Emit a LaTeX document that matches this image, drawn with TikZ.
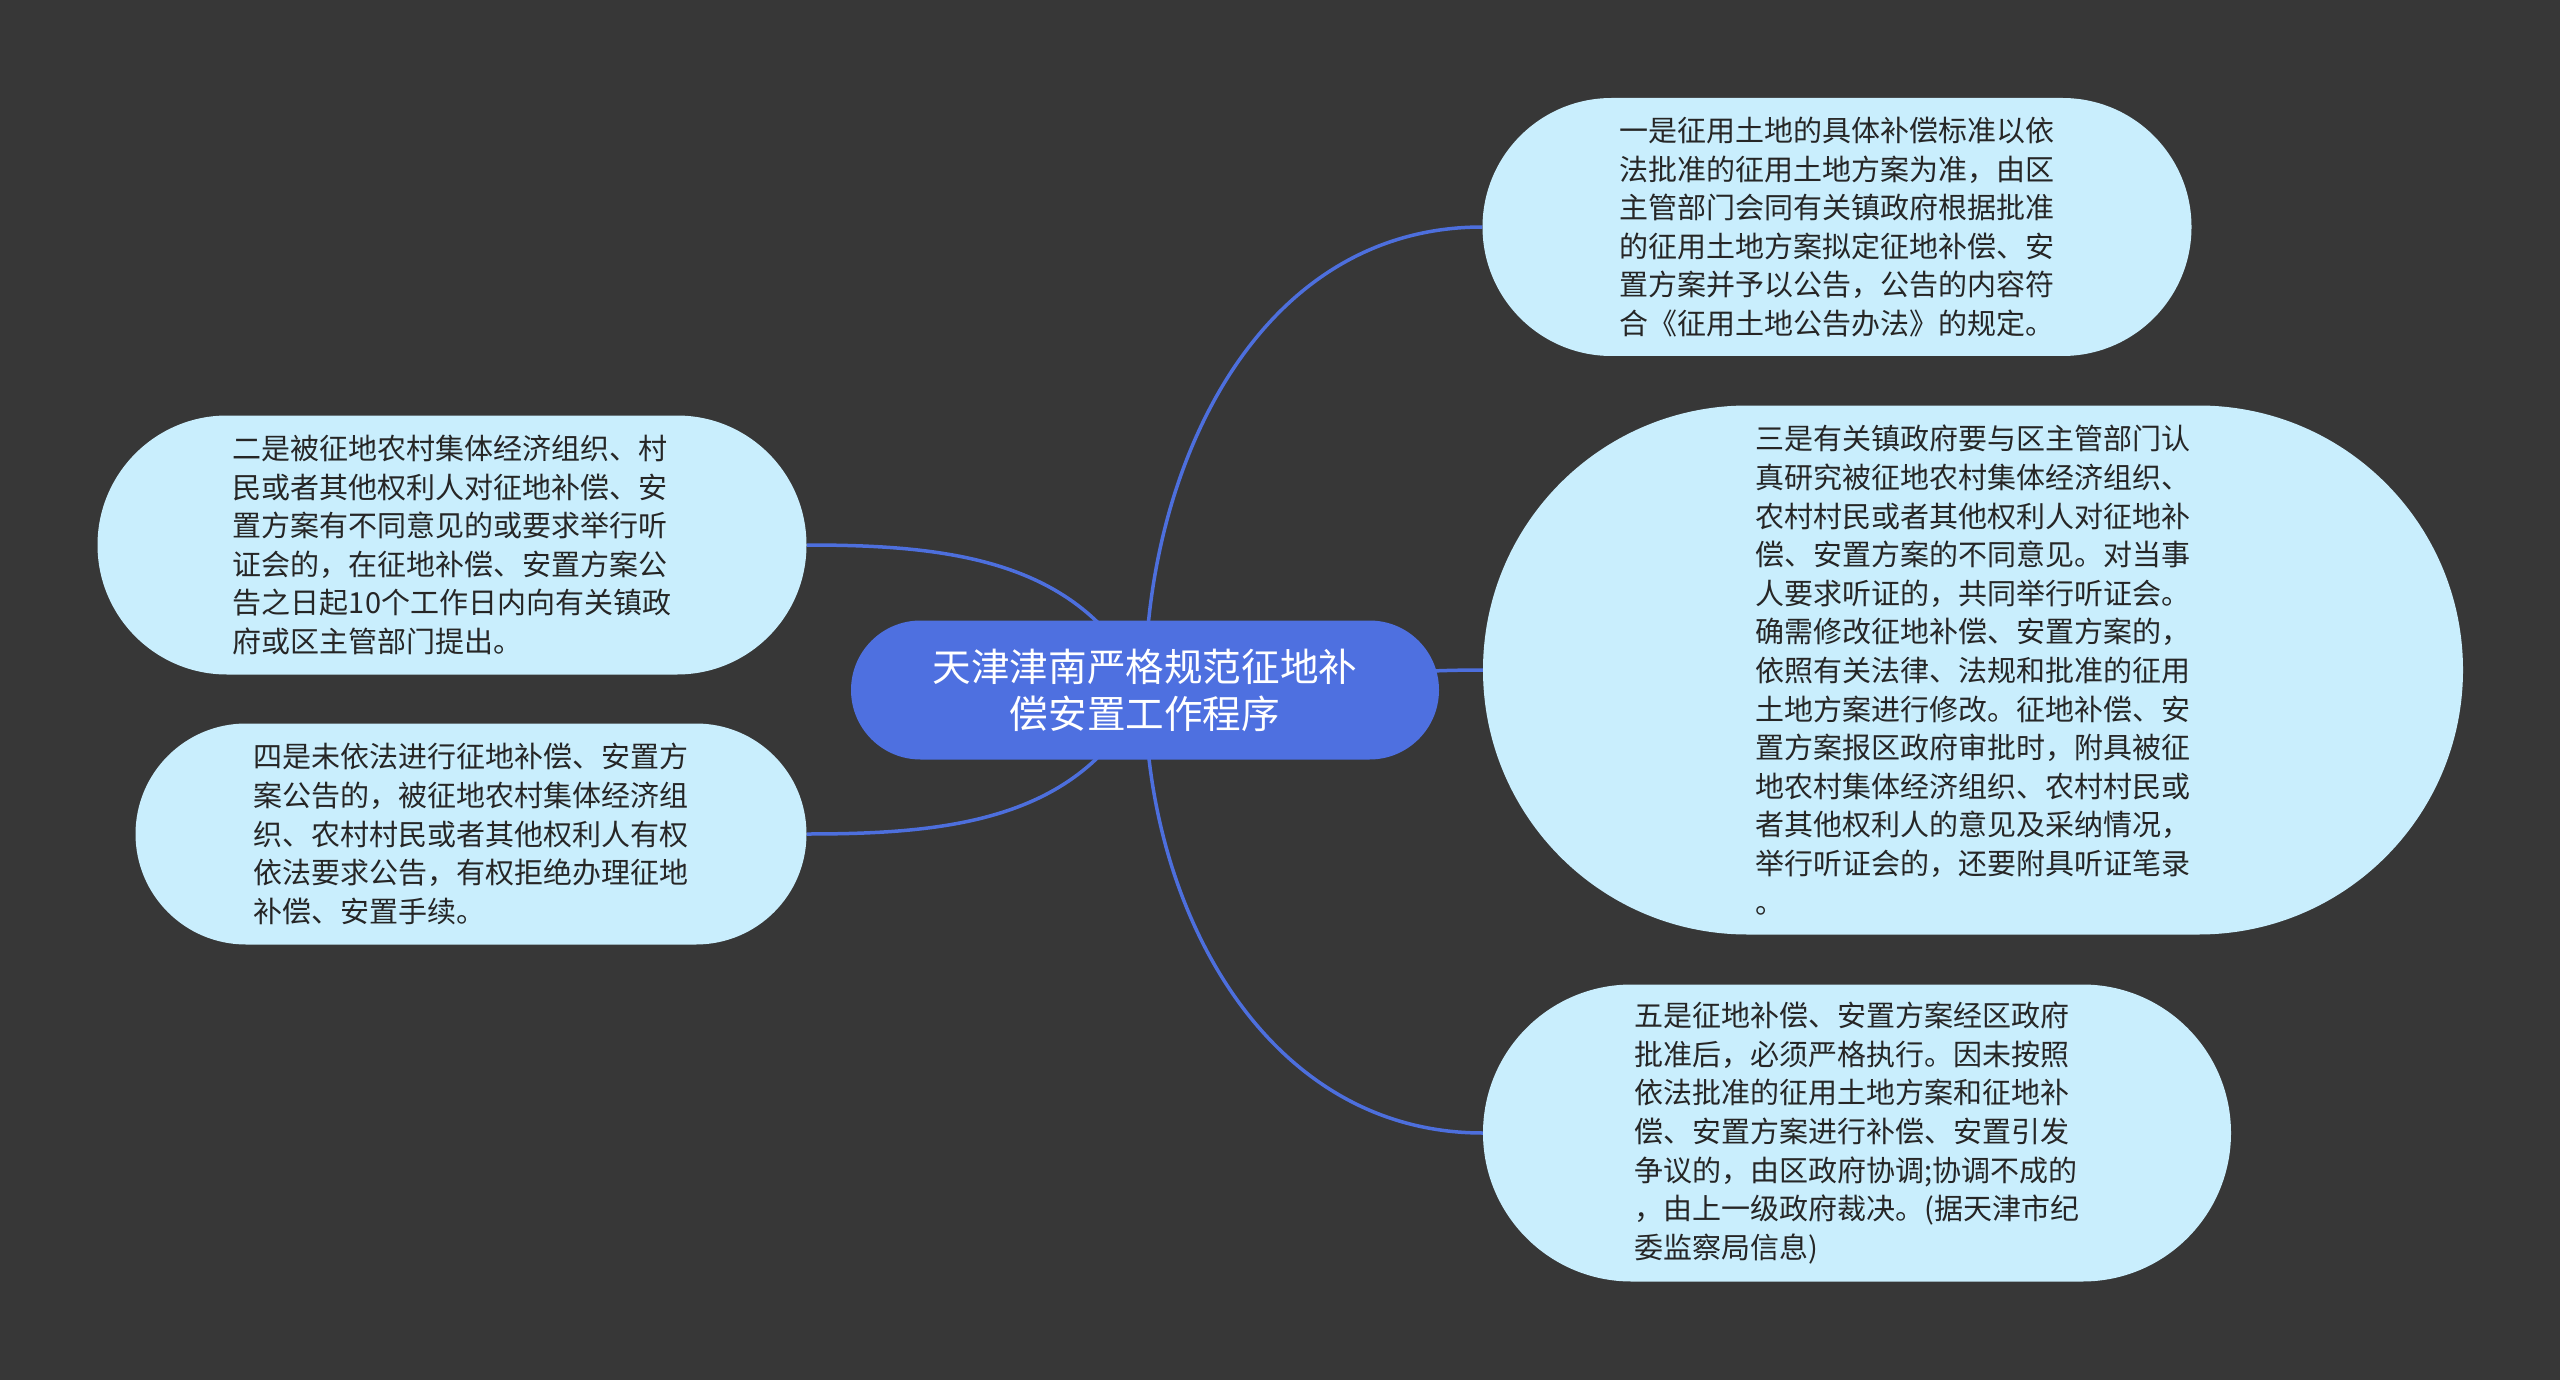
\documentclass[tikz,border=0pt]{standalone}
\usepackage{fontspec}
\newfontfamily\cjk{Noto Sans CJK SC}
\usepackage{xcolor}
\usetikzlibrary{positioning,backgrounds}
\definecolor{bgdark}{HTML}{373737}
\definecolor{rootblue}{HTML}{4E70E0}
\definecolor{leafblue}{HTML}{C9EEFD}
\definecolor{leaftext}{HTML}{262626}
\definecolor{wireblue}{HTML}{4D6FDD}
\newcommand\leaffont{\cjk\fontsize{29}{38.6}\selectfont}
\newcommand\rootfont{\cjk\fontsize{38.6}{47}\selectfont}
\tikzset{
	mind sheet/.style={x=1pt,y=-1pt,
		wire/.style={draw=wireblue,line width=3.5pt}},
	% pill shaped boxes: width, height
	pill/.code 2 args={
		\pgfmathsetlengthmacro{\pillradius}{#2/2}
		\pgfkeysalso{minimum width=#1,minimum height=#2,inner sep=0pt,
			rounded corners=\pillradius}
	},
	leaf/.code 2 args={
		\pgfkeysalso{pill={#1}{#2},fill=leafblue,text=leaftext,
			align=left,font=\leaffont}
	},
	root/.style 2 args={pill={#1}{#2},fill=rootblue,text=white,
		align=center,font=\rootfont}
}

\begin{document}
\begin{tikzpicture}[mind sheet]
	\useasboundingbox (0,0) rectangle (2560,1380);
	\node[root={588pt}{139pt}] (root) at (1145,690)
		{天津津南严格规范征地补\\偿安置工作程序};
	\node[leaf={709pt}{258pt}] (n1) at (1837,227)
		{一是征用土地的具体补偿标准以依\\法批准的征用土地方案为准，由区\\主管部门会同有关镇政府根据批准\\的征用土地方案拟定征地补偿、安\\置方案并予以公告，公告的内容符\\合《征用土地公告办法》的规定。};
	\node[leaf={980pt}{529pt}] (n3) at (1973,670)
		{三是有关镇政府要与区主管部门认\\真研究被征地农村集体经济组织、\\农村村民或者其他权利人对征地补\\偿、安置方案的不同意见。对当事\\人要求听证的，共同举行听证会。\\确需修改征地补偿、安置方案的，\\依照有关法律、法规和批准的征用\\土地方案进行修改。征地补偿、安\\置方案报区政府审批时，附具被征\\地农村集体经济组织、农村村民或\\者其他权利人的意见及采纳情况，\\举行听证会的，还要附具听证笔录\\。};
	\node[leaf={748pt}{297pt}] (n5) at (1857,1133)
		{五是征地补偿、安置方案经区政府\\批准后，必须严格执行。因未按照\\依法批准的征用土地方案和征地补\\偿、安置方案进行补偿、安置引发\\争议的，由区政府协调;协调不成的\\，由上一级政府裁决。(据天津市纪\\委监察局信息)};
	\node[leaf={709pt}{259pt}] (n2) at (452,545)
		{二是被征地农村集体经济组织、村\\民或者其他权利人对征地补偿、安\\置方案有不同意见的或要求举行听\\证会的，在征地补偿、安置方案公\\告之日起10个工作日内向有关镇政\\府或区主管部门提出。};
	\node[leaf={671pt}{221pt}] (n4) at (471,834)
		{四是未依法进行征地补偿、安置方\\案公告的，被征地农村集体经济组\\织、农村村民或者其他权利人有权\\依法要求公告，有权拒绝办理征地\\补偿、安置手续。};
	\begin{scope}[on background layer]
		\fill[bgdark] (0,0) rectangle (2560,1380);
		\draw[wire] (root.center) to[out=90,in=180] (n1.west);
		\draw[wire] (root.center) to[out=0,in=180] (n3.west);
		\draw[wire] (root.center) to[out=-90,in=180] (n5.west);
		\draw[wire] (root.center) to[out=115,in=0] (n2.east);
		\draw[wire] (root.center) to[out=-115,in=0] (n4.east);
	\end{scope}
\end{tikzpicture}
\end{document}
